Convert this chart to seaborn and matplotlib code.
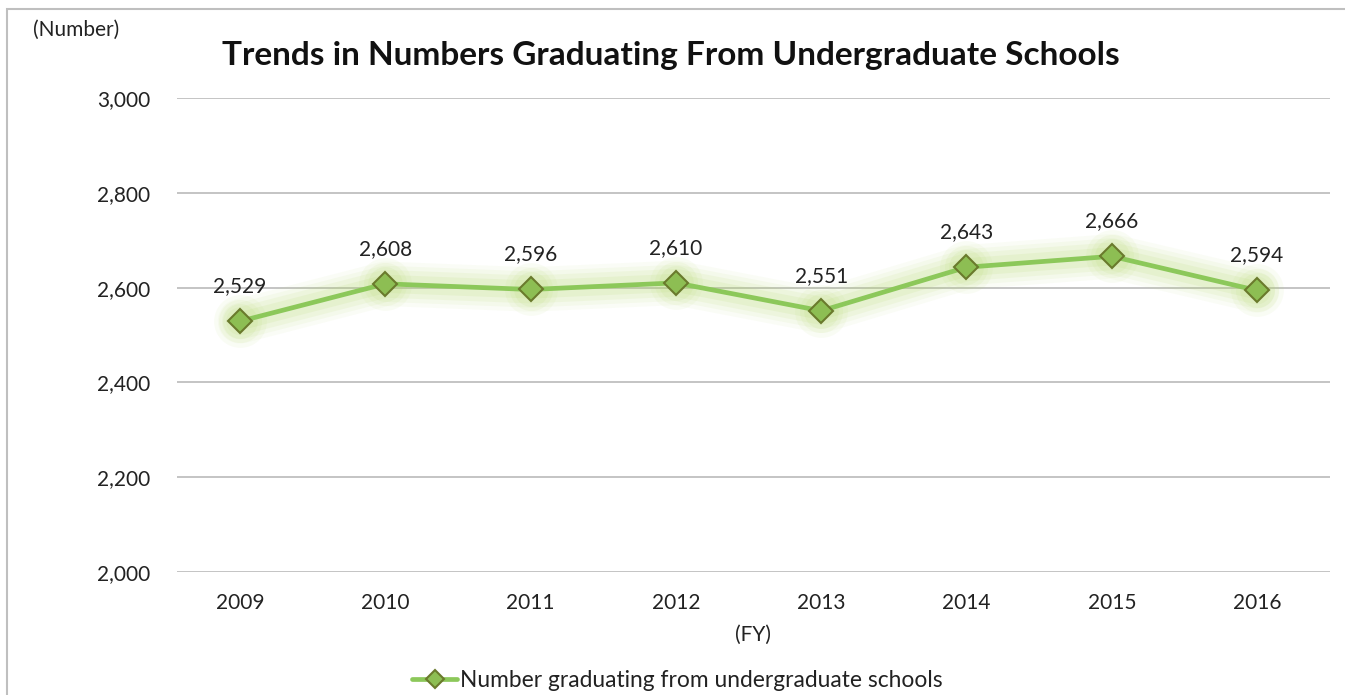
import matplotlib
matplotlib.use("Agg")
import matplotlib.pyplot as plt
import matplotlib.patches as mpatches
import seaborn as sns
import pandas as pd

years = ["2009", "2010", "2011", "2012", "2013", "2014", "2015", "2016"]
graduates = [2529, 2608, 2596, 2610, 2551, 2643, 2666, 2594]
y_ticks = [2000, 2200, 2400, 2600, 2800, 3000]
series_name = "Number graduating from undergraduate schools"

sns.set_theme(style="white")
plt.rcParams['font.family'] = ['Lato', 'DejaVu Sans']

df = pd.DataFrame({"year": years, "value": graduates})

fig = plt.figure(figsize=(13.45, 6.95), dpi=100)
ax = fig.add_axes([177/1345, 1-572/695, (1330-177)/1345, (572-98)/695])

# frame around chart
fig.patches.append(mpatches.Rectangle((7/1345, -0.01), 1.2, 1-9/695+0.01,
                                      transform=fig.transFigure, fill=False,
                                      edgecolor="#BFBFBF", linewidth=1.5))

for y in y_ticks:
    ax.axhline(y, color="#BFBFBF", linewidth=1.3, zorder=0)

x = list(range(len(years)))
# glow
for lw, a in [(32, 0.06), (26, 0.08), (20, 0.10), (13, 0.13)]:
    ax.plot(x, graduates, color="#B5D96B", linewidth=lw, alpha=a,
            solid_capstyle="round", solid_joinstyle="round", zorder=1)
for ms, a in [(38, 0.07), (31, 0.09), (25, 0.11)]:
    ax.plot(x, graduates, linestyle="none", marker="o", markersize=ms,
            color="#B5D96B", alpha=a, markeredgewidth=0, zorder=1)

sns.lineplot(data=df, x="year", y="value", ax=ax, color="#8CC85A", linewidth=3.4,
             marker="D", markersize=12, markerfacecolor="#8DBE53",
             markeredgecolor="#6A7A2C", markeredgewidth=1.5, label=series_name,
             zorder=3, sort=False)

for xi, v in zip(x, graduates):
    ax.annotate(f"{v:,}", (xi, v), xytext=(0, 18), textcoords="offset points",
                ha="center", va="bottom", fontsize=15, color="#222222")

ax.set_ylim(2000, 3000)
ax.set_xlim(-0.434, 7.502)
ax.set_yticks(y_ticks)
ax.set_yticklabels([f"{t:,}" for t in y_ticks], fontsize=15, color="#222222")
ax.set_xticks(x)
ax.set_xticklabels(years, fontsize=15, color="#222222")
ax.tick_params(axis="both", length=0)
ax.tick_params(axis="y", pad=19)
ax.tick_params(axis="x", pad=15)
for s in ax.spines.values():
    s.set_visible(False)
ax.set_xlabel("(FY)", fontsize=15, color="#222222", labelpad=9)
ax.set_ylabel("")

fig.text(33/1345, 1-30/695, "(Number)", fontsize=15, color="#222222", va="center", ha="left")
fig.text(671/1345, 1-55/695, "Trends in Numbers Graduating From Undergraduate Schools",
         fontsize=24, fontweight="bold", color="#111111", ha="center", va="center")

leg = ax.legend(loc="center", bbox_to_anchor=((677-177)/1153, 1-(680-98)/474),
                bbox_transform=ax.transAxes,
                frameon=False, fontsize=16.4, handlelength=2.0, handletextpad=0.1)
for t in leg.get_texts():
    t.set_color("#222222")
for h in leg.legend_handles:
    h.set_markersize(9)

fig.savefig("out.png", dpi=100)
